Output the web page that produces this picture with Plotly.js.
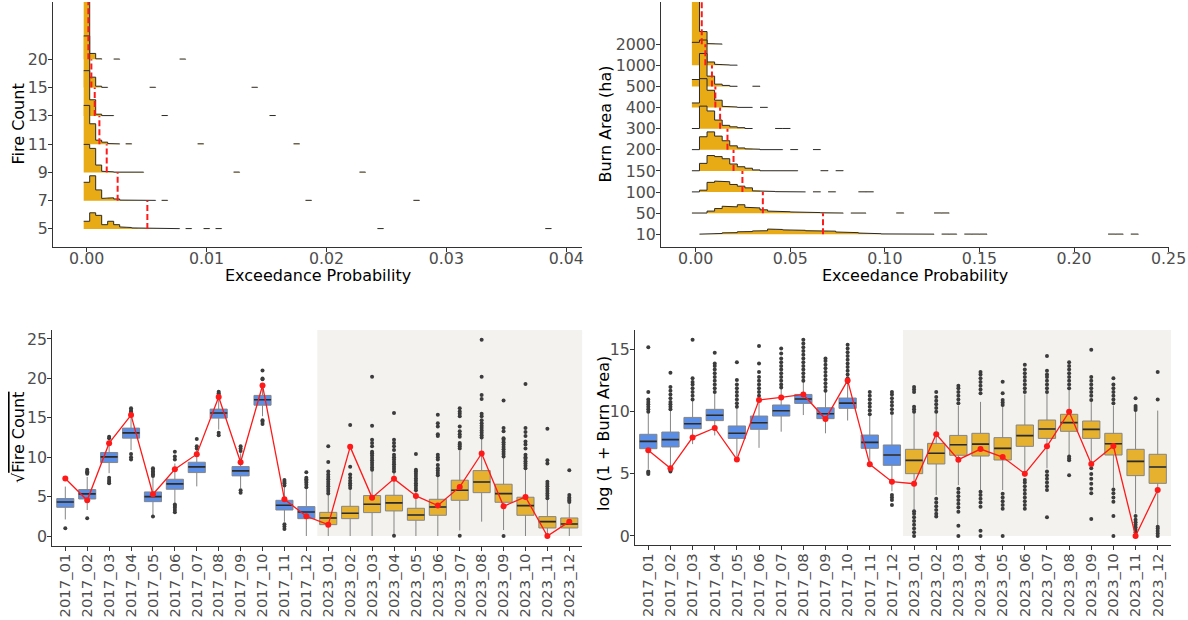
<!DOCTYPE html>
<html><head><meta charset="utf-8">
<script src="https://cdn.plot.ly/plotly-3.0.1.min.js"></script>
<style>html,body{margin:0;padding:0;background:#fff}#chart{width:1188px;height:620px}</style>
</head><body><div id="chart"></div>
<script>
// ================= DATA =================
// --- Top-left: exceedance probability histograms by fire count ---
const fcLevels = ['5','7','9','11','13','15','20'];
const fcBinWidth = 0.0005;
// bin heights (fraction of row spacing), bins centred at 0, 0.0005, 0.001, ...
const fc5  = [0.27,0.57,0.48,0.15,0.27,0.15,0.07,0.05,0.035,0.025,0.02,0.01,0.01,0.01,0.01,0.01];
const fc7  = [0.65,0.88,0.38,0.08,0.10,0.06,0.02,0.015,0.01,0.01,0.01,0.01];
const fc9  = [0.99,0.85,0.26,0.04,0.02,0.01,0.01,0.01,0.01,0.01];
const fc11 = [1.37,0.72,0.14,0.07,0.02,0.01];
const fc13 = [1.60,0.57,0.06,0.01,0.01];
const fc15 = [1.83,0.37,0.05,0.01];
const fc20 = [2.40,0.21,0.02];
// isolated sparse bins (centres) in the long tails
const fcTail5  = [0.0085,0.0100,0.0110,0.0245,0.0385];
const fcTail7  = [0.0065,0.0185,0.0275];
const fcTail9  = [0.0125,0.0230];
const fcTail11 = [0.0035,0.0095,0.0175];
const fcTail13 = [0.0065,0.0155];
const fcTail15 = [0.0055,0.0140];
const fcTail20 = [0.0025,0.0080];
const fcObserved = [0.00506,0.00258,0.00167,0.00106,0.00067,0.00039,0.00014];

// --- Top-right: exceedance probability histograms by burn area ---
const baLevels = ['10','50','100','150','200','300','400','500','1000','2000'];
const baBinWidth = 0.004;
const ba10   = [null,0.01,0.02,0.04,0.07,0.08,0.12,0.13,0.16,0.17,0.25,0.23,0.21,0.19,0.19,0.17,0.17,0.16,0.15,0.11,0.09,0.08,0.06,0.05,0.03,0.02,0.01,0.01,0.01,0.01,0.01,0.01];
const ba50   = [0.01,0.01,0.10,0.22,0.33,0.30,0.40,0.28,0.25,0.16,0.10,0.07,0.07,0.06,0.05,0.04,0.03,0.02,0.01,0.01,null,0.01,0.01];
const ba100  = [0.01,0.09,0.46,0.52,0.49,0.36,0.28,0.20,0.06,0.03,0.03,0.02,0.01,0.01,0.01];
const ba150  = [0.01,0.36,0.73,0.68,0.58,0.33,0.20,0.13,0.05,0.01,0.01,0.01,0.01,0.01];
const ba200  = [0.01,0.62,0.85,0.65,0.43,0.19,0.09,0.05,0.03,0.01,0.01,0.01];
const ba300  = [0.01,1.07,0.84,0.41,0.16,0.09,0.05,0.01];
const ba400  = [0.22,1.37,0.82,0.35,0.06,0.03,0.01,0.01];
const ba500  = [0.33,1.56,0.49,0.11,0.05,0.01];
const ba1000 = [1.09,1.20,0.16,0.05,0.02,0.01];
const ba2000 = [2.30,0.60,0.03,0.01];
const baTail10   = [0.132,0.136,0.144,0.148,0.152,0.220,0.224,0.232];
const baTail50   = [0.108,0.128,0.132];
const baTail100  = [0.064,0.072,0.088,0.092];
const baTail150  = [0.068,0.076];
const baTail200  = [0.052,0.064];
const baTail300  = [0.044,0.048];
const baTail400  = [0.036];
const baTail500  = [0.032];
const baTail1000 = [];
const baTail2000 = [];
const baObserved = [0.0673,0.0355,0.0247,0.0200,0.0168,0.0129,0.0104,0.0086,0.0051,0.0032];

// --- Bottom: monthly box plots ---
const months2017 = ['2017_01','2017_02','2017_03','2017_04','2017_05','2017_06','2017_07','2017_08','2017_09','2017_10','2017_11','2017_12'];
const months2023 = ['2023_01','2023_02','2023_03','2023_04','2023_05','2023_06','2023_07','2023_08','2023_09','2023_10','2023_11','2023_12'];

// sqrt(fire count)
const fcQ1  = [3.64,4.70,9.32,12.42,4.36,5.93,8.05,14.96,7.63,16.60,3.30,2.20, 1.44,2.20,2.97,3.18,2.00,2.63,4.53,5.50,4.28,2.63,1.02,1.02];
const fcMed = [4.32,5.34,10.04,13.09,5.00,6.61,8.77,15.60,8.26,17.29,3.90,3.05, 2.29,2.88,4.03,4.20,2.67,3.69,5.80,6.86,5.38,3.86,1.82,1.53];
const fcQ3  = [4.75,5.89,10.60,13.69,5.59,7.20,9.36,16.10,8.81,17.84,4.53,3.73, 3.00,3.77,5.13,5.17,3.52,4.66,7.08,8.30,6.57,4.92,2.46,2.29];
const fcLo  = [2.10,3.30,7.97,10.90,2.60,4.20,6.30,13.50,6.06,15.20,1.80,0.00, 0.00,0.00,0.00,0.20,0.00,0.00,0.70,1.82,0.76,0.00,0.00,0.00];
const fcHi  = [6.27,7.50,12.20,15.20,7.40,9.20,10.90,17.70,10.50,19.40,6.20,6.00, 5.30,6.00,8.30,8.10,5.70,7.60,10.80,12.40,10.00,8.40,4.60,4.20];
const fcOutliers = [
 [0.97],[2.25,7.9,8.1,8.2,8.4],[6.7,6.9,7.1,7.4,12.4,12.6],[9.7,10.0,10.4,15.6,15.8,16.0,16.2],
 [2.46,7.6,7.8,8.0,8.2,8.4,8.6],[3.0,3.3,3.6,3.8,4.0,9.7,10.1,10.7],[11.1,11.4,12.3],[12.8,13.1,17.9,18.1,18.3],
 [5.5,5.8,10.8,11.1,11.4],[14.2,14.5,14.7,19.9,20.0,21.0],[0.9,1.2,1.5,6.4,6.7,6.9,7.1],[6.2,6.5,6.8,7.0,7.2,7.4,8.1],
 [5.4,5.7,6.0,6.3,6.6,6.9,7.2,7.5,7.8,8.2,9.4,11.4],[6.1,6.4,6.7,7.0,7.4,7.8,8.8,14.1],
 [8.4,8.7,9.0,9.3,9.6,9.9,10.2,10.5,10.7,11.4,11.8,12.2,14.0,20.2],[0.04,8.2,8.5,8.8,9.1,9.4,9.7,10.0,10.3,10.9,11.4,11.8,12.2,15.6],
 [5.8,6.1,6.4,6.7,7.0,7.3,7.6,7.9,8.2,8.4,10.4],[7.7,8.0,8.3,8.6,9.0,9.7,10.0,10.3,12.7,12.9,13.9,14.3,15.4],
 [0.04,11.1,11.4,11.6,11.8,12.6,12.9,13.3,13.9,15.2,15.5,15.8,16.2],[12.5,12.8,13.1,13.4,13.7,14.0,14.3,14.7,15.2,15.5,17.4,17.9,20.2,24.9],
 [0.0,10.1,10.4,10.7,11.0,11.3,11.6,11.9,12.2,12.4,13.3,13.7,17.2],[8.6,8.9,9.2,9.5,9.8,10.0,10.3,11.1,11.6,12.0,12.7,13.2,13.7,19.3],
 [4.8,5.1,5.4,5.7,6.0,6.3,6.6,6.9,9.2,9.6,13.6],[4.3,4.5,4.7,4.9,5.2,8.35]
];
const fcObservedMonthly = [7.29,4.53,11.78,15.34,5.30,8.47,10.38,17.63,9.36,19.10,4.66,2.50, 1.44,11.31,4.87,7.25,5.08,3.86,6.23,10.47,3.77,4.96,0.00,1.82];

// log(1 + burn area)
const baQ1  = [7.03,7.17,8.64,9.29,7.86,8.59,9.66,10.68,9.45,10.28,7.06,5.69, 5.02,5.80,6.50,6.44,6.12,7.22,7.86,8.43,7.86,6.52,4.86,4.24];
const baMed = [7.62,7.76,9.04,9.72,8.27,9.12,10.09,11.03,9.85,10.70,7.54,6.52, 6.09,6.66,7.35,7.40,7.06,8.08,8.62,9.13,8.59,7.43,6.01,5.56];
const baQ3  = [8.19,8.37,9.55,10.20,8.86,9.66,10.55,11.40,10.33,11.11,8.13,7.33, 6.98,7.46,8.10,8.27,7.92,8.94,9.34,9.80,9.26,8.27,6.98,6.58];
const baLo  = [5.40,5.40,7.40,8.10,6.40,7.10,8.40,9.74,8.27,9.30,5.80,3.60, 2.10,3.30,4.10,3.70,3.70,4.78,5.45,6.52,5.80,3.90,1.82,0.89];
const baHi  = [9.90,10.10,10.90,11.50,10.30,11.20,11.90,12.40,11.60,12.30,9.70,9.75, 9.90,9.90,10.50,10.80,10.50,11.40,11.50,11.80,10.90,10.50,10.00,10.10];
const baOutliers = [
 [5.0,5.1,5.2,10.0,10.2,10.4,10.6,10.8,11.0,11.6,15.2],[5.2,5.3,10.2,10.4,10.6,10.8,11.1,11.4,11.7,12.0,13.15],
 [11.0,11.3,11.6,11.9,12.2,12.4,12.7,15.8],[11.6,11.9,12.2,12.5,12.8,13.1,13.4,13.7,13.9,14.76],
 [10.4,10.7,11.0,11.3,11.6,11.9,12.2,12.56,14.0],[11.3,11.6,11.9,12.2,12.5,12.8,13.2,13.9,15.3],
 [11.95,12.2,12.5,12.8,13.1,13.4,13.7,14.0,14.3,14.7,15.1],[12.5,12.8,13.1,13.4,13.7,14.0,14.3,14.6,14.9,15.2,15.5,15.8],
 [11.7,12.0,12.3,12.6,12.9,13.2,13.5,13.8,14.1,14.3],[12.4,12.7,13.0,13.3,13.6,13.9,14.2,14.5,14.8,15.1,15.4],
 [9.8,10.1,10.4,10.7,11.0,11.3,11.6],[2.5,2.9,3.1,3.3,9.9,10.2,10.5,10.8,11.1,11.4,11.6],
 [0.0,0.3,0.6,0.9,1.2,1.5,1.8,2.0,10.0,10.2,10.4,11.6,11.8,12.0],[1.56,1.8,2.1,2.4,2.7,3.0,10.0,10.3,10.6,10.9,11.2,11.6],
 [0.0,0.83,1.96,2.3,2.6,2.9,3.2,3.5,3.8,10.7,11.0,11.3,11.6,11.9,12.1],[0.0,0.43,2.36,2.7,3.0,3.3,3.57,11.5,11.8,12.1,12.4,12.7,13.0,13.2],
 [0.0,2.2,2.5,2.8,3.1,3.4,10.55,10.75,10.95,11.5,12.43],[2.2,2.5,2.8,3.1,3.4,3.7,4.0,4.3,4.5,11.6,11.9,12.2,12.5,12.8,13.1,13.4,13.8],
 [1.5,3.7,4.0,4.3,4.6,4.9,5.2,11.6,11.9,12.2,12.5,12.8,13.0,13.3,14.5],[4.9,6.1,6.25,6.4,11.9,12.2,12.5,12.8,13.1,13.4,13.7,14.0],
 [1.37,3.44,3.8,4.2,4.6,5.0,5.45,10.95,11.3,11.6,11.9,12.2,12.5,12.8,15.0],[0.0,1.6,2.76,3.1,3.45,3.75,10.7,11.0,11.3,11.6,11.9,12.2,12.7],
 [0.08,0.3,0.5,0.7,0.9,1.1,1.3,1.6,10.14,10.3,10.47,11.1],[0.0,0.2,0.4,0.6,0.75,11.0,13.2]
];
const baObservedMonthly = [6.90,5.45,7.94,8.70,6.17,10.95,11.16,11.40,9.42,12.53,5.77,4.37, 4.21,8.19,6.15,7.00,6.36,5.02,7.22,10.00,5.80,7.25,0.00,3.70];

// ================= STYLE =================
const FONT = 'DejaVu Sans';
const RIDGE_FILL = '#E8AB16';
const BLUE = '#5B8EE6';
const GOLD = '#E6B12F';
const SHADE = '#F3F2EE';
const RED = '#FF1A1A';
const TICKC = '#4D4D4D';
const W = 1188, H = 620;

// ================= BUILD =================
function ridgeTraces(heights, tails, bw, xa, ya) {
  const out = [];
  for (let i = heights.length - 1; i >= 0; i--) {
    const segs = []; let cur = null;
    heights[i].forEach((v, k) => {
      if (v === null) { cur = null; return; }
      if (!cur) { cur = []; segs.push(cur); }
      cur.push({c: k * bw, h: v});
    });
    tails[i].forEach(c => segs.push([{c: c, h: 0.012}]));
    const fx = [], fy = [], lx = [], ly = [];
    segs.forEach(seg => {
      fx.push(seg[0].c - bw / 2); fy.push(i);
      seg.forEach(b => {
        fx.push(b.c - bw / 2, b.c + bw / 2); fy.push(i + b.h, i + b.h);
        lx.push(b.c - bw / 2, b.c + bw / 2); ly.push(i + b.h, i + b.h);
      });
      const xe = seg[seg.length - 1].c + bw / 2;
      fx.push(xe, null); fy.push(i, null);
      lx.push(xe, null); ly.push(i, null);
    });
    out.push({type: 'scatter', mode: 'lines', x: fx, y: fy, fill: 'toself', fillcolor: RIDGE_FILL,
      line: {width: 0}, xaxis: xa, yaxis: ya, hoverinfo: 'skip', showlegend: false});
    out.push({type: 'scatter', mode: 'lines', x: lx, y: ly, line: {color: '#2a2a2a', width: 1},
      xaxis: xa, yaxis: ya, hoverinfo: 'skip', showlegend: false});
  }
  return out;
}
function redLines(obs, yTop, xa, ya) {
  const x = [], y = [];
  obs.forEach((v, i) => { x.push(v, v, null); y.push(i, i === obs.length - 1 ? yTop : i + 1, null); });
  return {type: 'scatter', mode: 'lines', x: x, y: y, line: {color: RED, width: 2, dash: '6px,3px'},
    xaxis: xa, yaxis: ya, hoverinfo: 'skip', showlegend: false};
}
function boxTraces(q1, med, q3, lo, hi, outl, obs, xa, ya) {
  const months = months2017.concat(months2023);
  const t = [];
  [[0, 12, BLUE, months2017], [12, 24, GOLD, months2023]].forEach(([a, b, col, ms]) => {
    t.push({type: 'box', x: ms, q1: q1.slice(a, b), median: med.slice(a, b), q3: q3.slice(a, b),
      lowerfence: lo.slice(a, b), upperfence: hi.slice(a, b), fillcolor: col,
      line: {color: '#858585', width: 1}, whiskerwidth: 0, width: 0.78, boxpoints: false,
      xaxis: xa, yaxis: ya, hoverinfo: 'skip', showlegend: false});
  });
  const ox = [], oy = [];
  outl.forEach((arr, i) => arr.forEach(v => { ox.push(months[i]); oy.push(v); }));
  t.push({type: 'scatter', mode: 'markers', x: ox, y: oy, marker: {color: '#3c3c3c', size: 4},
    xaxis: xa, yaxis: ya, hoverinfo: 'skip', showlegend: false});
  t.push({type: 'scatter', mode: 'markers', x: months, y: med,
    marker: {symbol: 'line-ew', size: 12.2, line: {color: '#2b2b2b', width: 1.6}},
    xaxis: xa, yaxis: ya, hoverinfo: 'skip', showlegend: false});
  t.push({type: 'scatter', mode: 'lines+markers', x: months, y: obs,
    line: {color: RED, width: 1.3}, marker: {color: RED, size: 6},
    xaxis: xa, yaxis: ya, hoverinfo: 'skip', showlegend: false});
  return t;
}

const fcHeights = [fc5, fc7, fc9, fc11, fc13, fc15, fc20];
const fcTails = [fcTail5, fcTail7, fcTail9, fcTail11, fcTail13, fcTail15, fcTail20];
const baHeights = [ba10, ba50, ba100, ba150, ba200, ba300, ba400, ba500, ba1000, ba2000];
const baTails = [baTail10, baTail50, baTail100, baTail150, baTail200, baTail300, baTail400, baTail500, baTail1000, baTail2000];

const fcYTop = 8.03, baYTop = 11.0;
let data = [];
data = data.concat(ridgeTraces(fcHeights, fcTails, fcBinWidth, 'x', 'y'));
data.push(redLines(fcObserved, fcYTop, 'x', 'y'));
data = data.concat(ridgeTraces(baHeights, baTails, baBinWidth, 'x2', 'y2'));
data.push(redLines(baObserved, baYTop, 'x2', 'y2'));
data = data.concat(boxTraces(fcQ1, fcMed, fcQ3, fcLo, fcHi, fcOutliers, fcObservedMonthly, 'x3', 'y3'));
data = data.concat(boxTraces(baQ1, baMed, baQ3, baLo, baHi, baOutliers, baObservedMonthly, 'x4', 'y4'));

const allMonths = months2017.concat(months2023);
const axBase = {showgrid: false, zeroline: false, showline: true, linecolor: '#333', linewidth: 1,
  ticks: 'outside', ticklen: 4, tickwidth: 1, tickcolor: '#333',
  tickfont: {family: FONT, size: 15.8, color: TICKC}, automargin: false, fixedrange: true};
const xBase = Object.assign({}, axBase, {ticklabelstandoff: -7});
const yBase = Object.assign({}, axBase, {ticklabelstandoff: -3});
const catX = Object.assign({}, axBase, {type: 'category', categoryorder: 'array', categoryarray: allMonths,
  tickmode: 'array', tickvals: allMonths, ticktext: allMonths, tickangle: -90, range: [-0.6, 23.6],
  ticklabelstandoff: -3, tickfont: {family: FONT, size: 14.8, color: TICKC}});

function px2x(p) { return p / W; }
function px2y(p) { return 1 - p / H; }

const layout = {
  width: W, height: H, margin: {l: 0, r: 0, t: 0, b: 0},
  paper_bgcolor: '#fff', plot_bgcolor: 'rgba(0,0,0,0)', showlegend: false, boxmode: 'overlay',
  font: {family: FONT, size: 16, color: '#000'},
  xaxis: Object.assign({}, xBase, {domain: [px2x(53), px2x(582)], range: [-0.00281, 0.04131],
    tickvals: [0, 0.01, 0.02, 0.03, 0.04], ticktext: ['0.00', '0.01', '0.02', '0.03', '0.04'], anchor: 'y'}),
  yaxis: Object.assign({}, yBase, {domain: [px2y(247), px2y(2)], range: [-0.64, fcYTop],
    tickvals: fcLevels.map((_, i) => i), ticktext: fcLevels, anchor: 'x'}),
  xaxis2: Object.assign({}, xBase, {domain: [px2x(661), px2x(1169)], range: [-0.01834, 0.2502],
    tickvals: [0, 0.05, 0.10, 0.15, 0.20, 0.25], ticktext: ['0.00', '0.05', '0.10', '0.15', '0.20', '0.25'], anchor: 'y2'}),
  yaxis2: Object.assign({}, yBase, {domain: [px2y(247), px2y(2)], range: [-0.60, baYTop],
    tickvals: baLevels.map((_, i) => i), ticktext: baLevels, anchor: 'x2'}),
  xaxis3: Object.assign({}, catX, {domain: [px2x(52.15), px2x(582.45)], anchor: 'y3'}),
  yaxis3: Object.assign({}, yBase, {domain: [px2y(545.7), px2y(330)], range: [-1.23, 26.14],
    tickvals: [0, 5, 10, 15, 20, 25], anchor: 'x3'}),
  xaxis4: Object.assign({}, catX, {domain: [px2x(635), px2x(1171)], anchor: 'y4'}),
  yaxis4: Object.assign({}, yBase, {domain: [px2y(545.3), px2y(330)], range: [-0.75, 16.59],
    tickvals: [0, 5, 10, 15], anchor: 'x4'}),
  shapes: [
    {type: 'rect', xref: 'x3', yref: 'y3', x0: 11.5, x1: 23.6, y0: 0, y1: 26.14, fillcolor: SHADE, line: {width: 0}, layer: 'below'},
    {type: 'rect', xref: 'x4', yref: 'y4', x0: 11.5, x1: 23.6, y0: 0, y1: 16.59, fillcolor: SHADE, line: {width: 0}, layer: 'below'}
  ],
  annotations: [
    {text: 'Exceedance Probability', x: px2x(317.5), y: px2y(275), xref: 'paper', yref: 'paper', showarrow: false, xanchor: 'center', yanchor: 'middle', font: {family: FONT, size: 16, color: '#000'}},
    {text: 'Exceedance Probability', x: px2x(915), y: px2y(275), xref: 'paper', yref: 'paper', showarrow: false, xanchor: 'center', yanchor: 'middle', font: {family: FONT, size: 16, color: '#000'}},
    {text: 'Fire Count', x: px2x(18), y: px2y(124.5), xref: 'paper', yref: 'paper', showarrow: false, textangle: -90, xanchor: 'center', yanchor: 'middle', font: {family: FONT, size: 16, color: '#000'}},
    {text: 'Burn Area (ha)', x: px2x(605), y: px2y(124.5), xref: 'paper', yref: 'paper', showarrow: false, textangle: -90, xanchor: 'center', yanchor: 'middle', font: {family: FONT, size: 16, color: '#000'}},
    {text: '√<span style="text-decoration:overline">Fire Count</span>', x: px2x(18), y: px2y(438), xref: 'paper', yref: 'paper', showarrow: false, textangle: -90, xanchor: 'center', yanchor: 'middle', font: {family: FONT, size: 16, color: '#000'}},
    {text: 'log (1 + Burn Area)', x: px2x(603), y: px2y(434), xref: 'paper', yref: 'paper', showarrow: false, textangle: -90, xanchor: 'center', yanchor: 'middle', font: {family: FONT, size: 16, color: '#000'}}
  ]
};

Plotly.newPlot('chart', data, layout, {staticPlot: true, displayModeBar: false});
</script>
</body></html>
